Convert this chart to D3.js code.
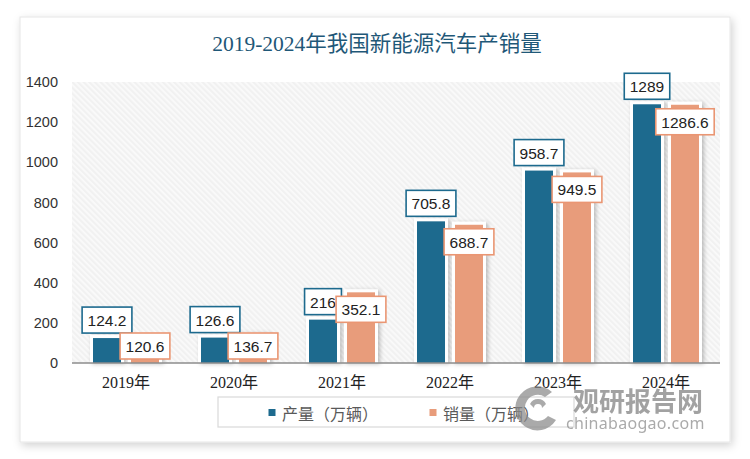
<!DOCTYPE html>
<html><head><meta charset="utf-8">
<script src="https://cdn.jsdelivr.net/npm/d3@7/dist/d3.min.js"></script>
<style>
html,body{margin:0;padding:0;background:#fff;}
svg{display:block;}
</style></head>
<body>
<svg id="c" width="750" height="459"></svg>
<script>
const categories = ["2019年","2020年","2021年","2022年","2023年","2024年"];
const production = [124.2,126.6,216,705.8,958.7,1289];
const sales = [120.6,136.7,352.1,688.7,949.5,1286.6];
const seriesNames = ["产量（万辆）","销量（万辆）"];
const yTicks = [0,200,400,600,800,1000,1200,1400];
const title = "2019-2024年我国新能源汽车产销量";

const colors = ["#1d6a8e","#e89c7b"];
const labelStroke = ["#1d6a8e","#ea9673"];

const svg = d3.select("#c");
const defs = svg.append("defs");

const f1 = defs.append("filter").attr("id","cardShadow").attr("x","-5%").attr("y","-5%").attr("width","110%").attr("height","115%");
f1.append("feDropShadow").attr("dx",2).attr("dy",3).attr("stdDeviation",4).attr("flood-color","#000").attr("flood-opacity",0.18);
const f2 = defs.append("filter").attr("id","barShadow").attr("x","-30%").attr("y","-10%").attr("width","160%").attr("height","130%");
f2.append("feDropShadow").attr("dx",2).attr("dy",1).attr("stdDeviation",2).attr("flood-color","#000").attr("flood-opacity",0.25);

const pat = defs.append("pattern").attr("id","hatch").attr("patternUnits","userSpaceOnUse")
  .attr("width",4).attr("height",4).attr("patternTransform","rotate(45)");
pat.append("rect").attr("width",4).attr("height",4).attr("fill","#f1f1f1");
pat.append("rect").attr("width",4).attr("height",1.8).attr("fill","#fafafa");

svg.append("rect").attr("x",20).attr("y",17).attr("width",710).attr("height",425)
  .attr("fill","#fff").attr("stroke","#e6e6e6").attr("stroke-width",1).attr("filter","url(#cardShadow)");

svg.append("text").attr("x",377).attr("y",44).attr("text-anchor","middle").attr("dominant-baseline","central")
  .attr("font-family","'Liberation Serif','Noto Sans CJK SC',serif").attr("font-size",21.5)
  .attr("fill","#1f5878").text(title);

const plot = {x0:72, x1:720, y0:82, y1:363};

svg.append("rect").attr("x",plot.x0).attr("y",plot.y0).attr("width",plot.x1-plot.x0).attr("height",plot.y1-plot.y0)
  .attr("fill","url(#hatch)");

const x = d3.scaleBand().domain(categories).range([plot.x0,plot.x1]).paddingInner(0.389).paddingOuter(0.1945);
const xs = d3.scaleBand().domain([0,1]).range([0,x.bandwidth()]).paddingInner(0.263);
const y = d3.scaleLinear().domain([0,1400]).range([plot.y1,plot.y0]);

const ya = svg.append("g").attr("transform",`translate(${plot.x0-14},0)`)
  .call(d3.axisLeft(y).tickValues(yTicks).tickSize(0).tickPadding(0).tickFormat(d3.format("d")));
ya.select(".domain").remove();
ya.selectAll("text").attr("font-family","'Liberation Sans','Noto Sans',sans-serif").attr("font-size",14.5).attr("fill","#333");

const xa = svg.append("g").attr("transform",`translate(0,${plot.y1})`)
  .call(d3.axisBottom(x).tickSize(0).tickPadding(14));
xa.select(".domain").remove();
xa.selectAll("text").attr("font-family","'Liberation Serif','Noto Sans CJK SC',serif").attr("font-size",16).attr("fill","#222");

const series = [production, sales];
const data = [];
categories.forEach((c,i)=>{ series.forEach((s,j)=>data.push({c,j,v:s[i]})); });

const gb = svg.append("g");
gb.selectAll("rect.bg").data(data).join("rect").attr("class","bg")
  .attr("x",d=>x(d.c)+xs(d.j)-3).attr("y",d=>y(d.v)-3)
  .attr("width",xs.bandwidth()+6).attr("height",d=>plot.y1-y(d.v)+3)
  .attr("fill","#fff").attr("filter","url(#barShadow)");
gb.selectAll("rect.bar").data(data).join("rect").attr("class","bar")
  .attr("x",d=>x(d.c)+xs(d.j)).attr("y",d=>y(d.v))
  .attr("width",xs.bandwidth()).attr("height",d=>plot.y1-y(d.v))
  .attr("fill",d=>colors[d.j]);

svg.append("line").attr("x1",plot.x0).attr("x2",plot.x1).attr("y1",plot.y1).attr("y2",plot.y1)
  .attr("stroke","#8c8c8c").attr("stroke-width",1.5);

const lblFont = "'Liberation Sans','Noto Sans',sans-serif";
const gl = svg.append("g");
[0,1].forEach(j=>{
  data.filter(d=>d.j===j).forEach(d=>{
    const cx = x(d.c)+xs(d.j)+xs.bandwidth()/2;
    const top = y(d.v);
    const h = 26;
    let by;
    if(j===0){ by = top-5-h; }
    else { by = Math.min(top+4, plot.y1-4-h); }
    const t = gl.append("text").attr("font-family",lblFont).attr("font-size",15.5).attr("fill","#222")
      .attr("text-anchor","middle").attr("dominant-baseline","central").text(String(d.v));
    const tw = t.node().getComputedTextLength();
    const w = tw+11;
    gl.insert("rect", () => t.node()).attr("x",cx-w/2).attr("y",by).attr("width",w).attr("height",h)
      .attr("fill","#fff").attr("stroke",labelStroke[j]).attr("stroke-width",1.6);
    t.attr("x",cx).attr("y",by+h/2+0.5);
  });
});

svg.append("rect").attr("x",218).attr("y",397).attr("width",356).attr("height",30)
  .attr("fill","#fff").attr("stroke","#d9d9d9").attr("stroke-width",1.2);
const legX = [272,433];
seriesNames.forEach((n,j)=>{
  svg.append("rect").attr("x",legX[j]-3.5).attr("y",409).attr("width",7).attr("height",7).attr("fill",colors[j]);
  svg.append("text").attr("x",legX[j]+10).attr("y",412.5).attr("dominant-baseline","central")
    .attr("font-family","'Noto Sans CJK SC',sans-serif").attr("font-size",16).attr("fill","#595959").text(n);
});

const wm = svg.append("g").attr("opacity",0.72);
wm.append("path").attr("d","M552,392 A22,22 0 1 0 556,420 L548,416 A13,13 0 1 1 545,397 Z").attr("fill","#8a8a8a");
wm.append("path").attr("d","M530,404 A9,9 0 0 1 546,404 L542,408 A4,4 0 0 0 534,408 Z").attr("fill","#8a8a8a");
wm.append("text").attr("x",573).attr("y",399).attr("dominant-baseline","central")
  .attr("font-family","'Noto Sans CJK SC',sans-serif").attr("font-weight","bold").attr("font-size",26)
  .attr("fill","#7f7f7f").text("观研报告网");
wm.append("text").attr("x",566).attr("y",423).attr("dominant-baseline","central")
  .attr("font-family","'Noto Sans','DejaVu Sans',sans-serif").attr("font-size",16).attr("letter-spacing",0.3)
  .attr("fill","#8a8a8a").text("chinabaogao.com");
</script>
</body></html>
